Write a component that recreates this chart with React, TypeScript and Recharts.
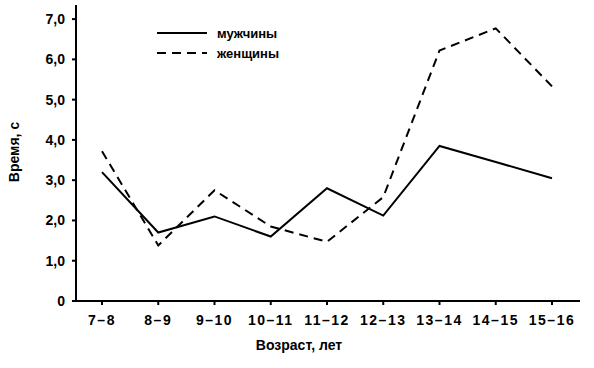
import React from 'react';
import { LineChart, Line, XAxis, YAxis, Legend } from 'recharts';

const ages = ['7–8', '8–9', '9–10', '10–11', '11–12', '12–13', '13–14', '14–15', '15–16'];
const men = [3.2, 1.7, 2.1, 1.6, 2.8, 2.12, 3.85, 3.45, 3.05];
const women = [3.72, 1.38, 2.75, 1.85, 1.47, 2.58, 6.22, 6.77, 5.33];
const yTicks = [0, 1, 2, 3, 4, 5, 6, 7];

const data = ages.map((age, i) => ({ age, men: men[i], women: women[i] }));

const font = '"Liberation Sans", Arial, sans-serif';
const tickStyle = { fontFamily: font, fontSize: 14, fontWeight: 700, fill: '#000' };
const xTickStyle = { ...tickStyle, letterSpacing: 1.5 };

const fmt = (v: number) => (v === 0 ? '0' : v.toFixed(1).replace('.', ','));

const LegendBox = () => (
  <svg width={140} height={44}>
    <line x1={0} y1={11} x2={50} y2={11} stroke="#000" strokeWidth={2} />
    <text x={60} y={16} style={{ fontFamily: font, fontSize: 13, fontWeight: 700 }}>мужчины</text>
    <line x1={0} y1={31} x2={50} y2={31} stroke="#000" strokeWidth={2} strokeDasharray="9 6" />
    <text x={60} y={36} style={{ fontFamily: font, fontSize: 13, fontWeight: 700 }}>женщины</text>
  </svg>
);

export default function App() {
  return (
    <div style={{ position: 'absolute', left: 0, top: 0, background: '#fff' }}>
      <LineChart width={594} height={368} data={data} margin={{ top: 5, right: 14, bottom: 0, left: 0 }}>
        <XAxis
          dataKey="age"
          height={67}
          padding={{ left: 26, right: 28 }}
          stroke="#000"
          strokeWidth={2}
          tickSize={4}
          tickMargin={10}
          tick={xTickStyle}
          interval={0}
          label={{
            content: () => (
              <text x={299} y={350} textAnchor="middle" style={{ fontFamily: font, fontSize: 14, fontWeight: 700 }}>
                Возраст, лет
              </text>
            ),
          }}
        />
        <YAxis
          width={76}
          domain={[0, 7.35]}
          ticks={yTicks}
          tickFormatter={fmt}
          stroke="#000"
          strokeWidth={2}
          tickSize={4}
          tickMargin={7}
          tick={tickStyle}
          allowDataOverflow
          label={{
            content: () => (
              <text
                x={19}
                y={152}
                textAnchor="middle"
                transform="rotate(-90 19 152)"
                style={{ fontFamily: font, fontSize: 14, fontWeight: 700 }}
              >
                Время, с
              </text>
            ),
          }}
        />
        <Legend
          layout="horizontal"
          verticalAlign="middle"
          align="center"
          wrapperStyle={{ left: 157, top: 22, width: 140 }}
          content={() => <LegendBox />}
        />
        <Line dataKey="men" stroke="#000" strokeWidth={2} dot={false} isAnimationActive={false} />
        <Line dataKey="women" stroke="#000" strokeWidth={2} strokeDasharray="9 6" dot={false} isAnimationActive={false} />
      </LineChart>
    </div>
  );
}
